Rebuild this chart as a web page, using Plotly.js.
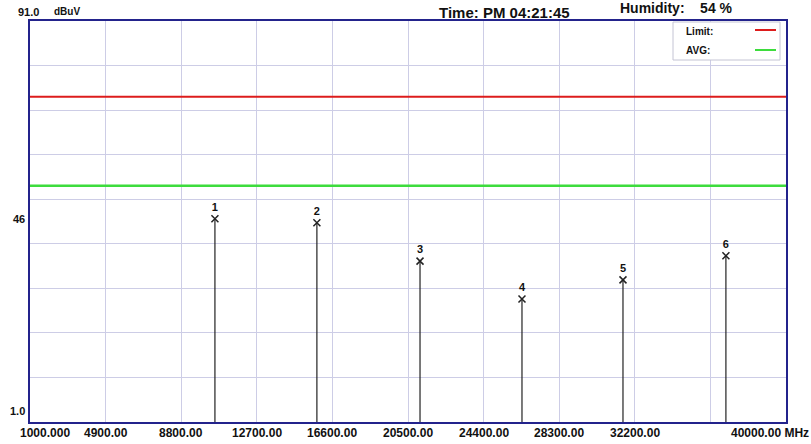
<!DOCTYPE html>
<html>
<head>
<meta charset="utf-8">
<script src="https://cdn.plot.ly/plotly-3.0.1.min.js"></script>
<style>html,body{margin:0;padding:0;background:#fff;}#chart{width:811px;height:444px;}</style>
</head>
<body>
<div id="chart"></div>
<script>
// ---- data ----
const markerIds = ['1', '2', '3', '4', '5', '6'];
const markerFreqs = [10540, 15800, 21120, 26380, 31590, 36900];   // MHz
const markerLevels = [46.6, 45.7, 37.1, 28.6, 32.9, 38.3];      // dBuV
const limitLevel = 74;   // Limit (red)
const avgLevel = 54;     // AVG (green)
const xTickVals = [1000, 4900, 8800, 12700, 16600, 20500, 24400, 28300, 32200, 36100, 40000];
const xTickText = ['1000.000', '4900.00', '8800.00', '12700.00', '16600.00', '20500.00', '24400.00', '28300.00', '32200.00', '', '40000.00 MHz'];
const yMin = 1, yMax = 91, yMid = 46;
const yLabels = ['91.0', '46', '1.0'];

const FONT = 'Arial, "Liberation Sans", sans-serif';

const traces = [
  {x: [xTickVals[0], xTickVals[xTickVals.length - 1]], y: [limitLevel, limitLevel], mode: 'lines',
   line: {color: '#dd1c1c', width: 2}, hoverinfo: 'skip'},
  {x: [xTickVals[0], xTickVals[xTickVals.length - 1]], y: [avgLevel, avgLevel], mode: 'lines',
   line: {color: '#3ddc3d', width: 2.5}, hoverinfo: 'skip'},
  {x: markerFreqs, y: markerLevels, mode: 'markers+text', text: markerIds, textposition: 'top center',
   textfont: {family: FONT, size: 11, color: '#111', weight: 'bold'},
   marker: {symbol: 'x-thin-open', size: 7, line: {width: 1.5, color: '#222'}, color: '#222'},
   error_y: {type: 'data', symmetric: false, array: markerLevels.map(() => 0),
             arrayminus: markerLevels.map(v => v - yMin), width: 0, thickness: 1.2, color: '#222'},
   cliponaxis: false, hoverinfo: 'skip'}
];

const annotations = [];
const pY = py => (422 - py) / 401;
const pX = px => (px - 30) / 756;
xTickVals.forEach((v, i) => {
  if (!xTickText[i]) return;
  annotations.push({x: v, xref: 'x', y: pY(433), yref: 'paper', text: xTickText[i], showarrow: false,
           font: {family: FONT, size: 12, color: '#111', weight: 'bold'}, xanchor: 'center', yanchor: 'middle'});
});
annotations[0].xanchor = 'left'; annotations[0].xshift = -12;
annotations[annotations.length - 1].xanchor = 'right'; annotations[annotations.length - 1].xshift = 25;

annotations.push({x: pX(41), xref: 'paper', y: pY(12), yref: 'paper', text: yLabels[0], showarrow: false,
  xanchor: 'right', yanchor: 'middle', font: {family: FONT, size: 11, color: '#111', weight: 'bold'}});
annotations.push({x: pX(52), xref: 'paper', y: pY(12), yref: 'paper', text: 'dBuV', showarrow: false,
  xanchor: 'left', yanchor: 'middle', font: {family: FONT, size: 10, color: '#111', weight: 'bold'}});
annotations.push({x: pX(27), xref: 'paper', y: yMid, yref: 'y', yshift: 3, text: yLabels[1], showarrow: false,
  xanchor: 'right', yanchor: 'middle', font: {family: FONT, size: 11, color: '#111', weight: 'bold'}});
annotations.push({x: pX(27), xref: 'paper', y: pY(411), yref: 'paper', text: yLabels[2], showarrow: false,
  xanchor: 'right', yanchor: 'middle', font: {family: FONT, size: 11, color: '#111', weight: 'bold'}});
// header texts
annotations.push({x: pX(505), xref: 'paper', y: pY(13), yref: 'paper', text: 'Time: PM 04:21:45', showarrow: false,
  xanchor: 'center', yanchor: 'middle', font: {family: FONT, size: 15, color: '#111', weight: 'bold'}});
annotations.push({x: pX(618), xref: 'paper', y: pY(8), yref: 'paper', text: 'Humidity:&nbsp;&nbsp;&nbsp;&nbsp;54 %', showarrow: false,
  xanchor: 'left', yanchor: 'middle', font: {family: FONT, size: 14, color: '#111', weight: 'bold'}});
// legend texts
annotations.push({x: pX(684), xref: 'paper', y: pY(31), yref: 'paper', text: 'Limit:', showarrow: false,
  xanchor: 'left', yanchor: 'middle', font: {family: FONT, size: 10, color: '#111', weight: 'bold'}});
annotations.push({x: pX(684), xref: 'paper', y: pY(50), yref: 'paper', text: 'AVG:', showarrow: false,
  xanchor: 'left', yanchor: 'middle', font: {family: FONT, size: 10, color: '#111', weight: 'bold'}});

const shapes = [
  {type: 'rect', xref: 'paper', yref: 'paper', x0: pX(673), x1: pX(780), y0: pY(60), y1: pY(22),
   fillcolor: '#ffffff', line: {color: '#c4c4d4', width: 1}, layer: 'above'},
  {type: 'line', xref: 'paper', yref: 'paper', x0: pX(755), x1: pX(776), y0: pY(30), y1: pY(30),
   line: {color: '#dd1c1c', width: 2}, layer: 'above'},
  {type: 'line', xref: 'paper', yref: 'paper', x0: pX(755), x1: pX(776), y0: pY(50), y1: pY(50),
   line: {color: '#3ddc3d', width: 2}, layer: 'above'}
];

const layout = {
  width: 811, height: 444,
  margin: {l: 30, r: 25, t: 21, b: 22, pad: 0},
  paper_bgcolor: '#ffffff', plot_bgcolor: '#ffffff',
  showlegend: false,
  xaxis: {range: [xTickVals[0], xTickVals[xTickVals.length - 1]], tickmode: 'array', tickvals: xTickVals,
          showticklabels: false, ticks: '', showgrid: true, gridcolor: '#cdcde6', gridwidth: 1,
          zeroline: false, showline: true, mirror: true, linecolor: '#23238c', linewidth: 2},
  yaxis: {range: [yMin, yMax], tick0: yMin, dtick: 10, showticklabels: false, ticks: '',
          showgrid: true, gridcolor: '#cdcde6', gridwidth: 1,
          zeroline: false, showline: true, mirror: true, linecolor: '#23238c', linewidth: 2},
  annotations: annotations,
  shapes: shapes
};

Plotly.newPlot('chart', traces, layout, {displayModeBar: false, staticPlot: true});
</script>
</body>
</html>
